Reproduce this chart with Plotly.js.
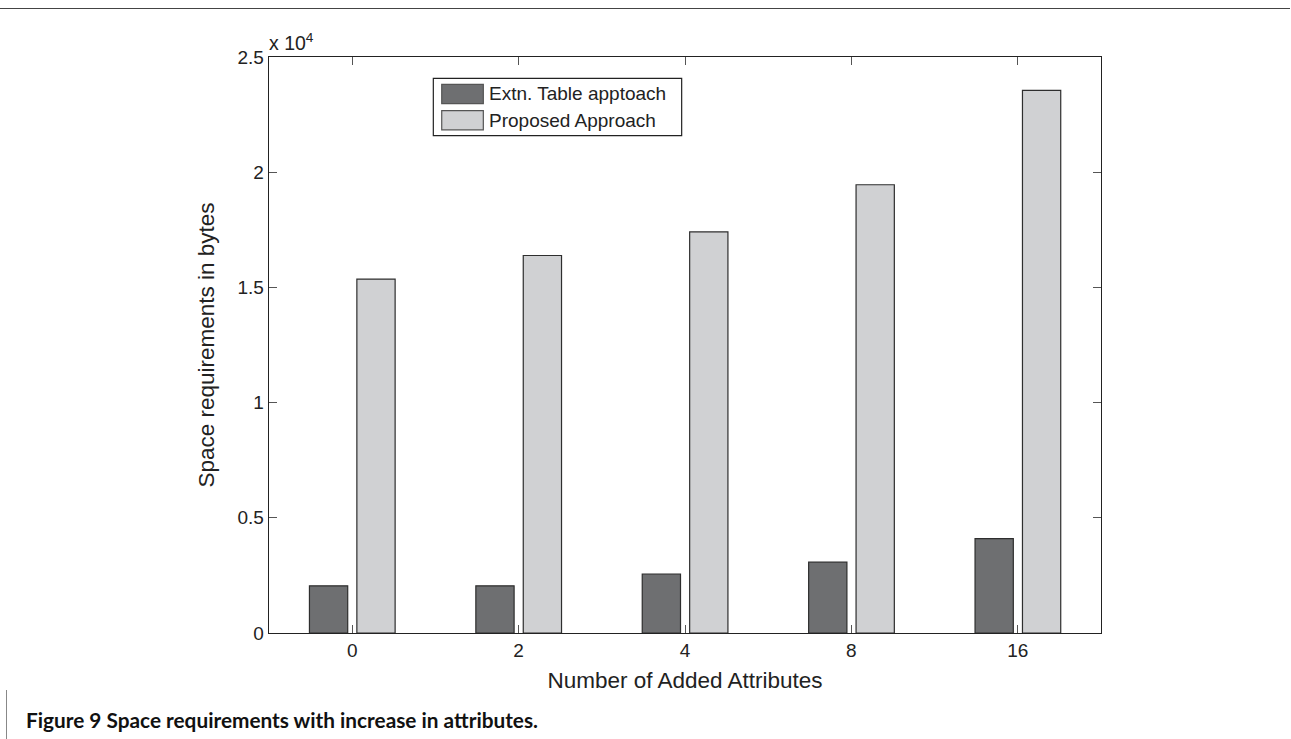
<!DOCTYPE html>
<html>
<head>
<meta charset="utf-8">
<script src="https://cdn.plot.ly/plotly-3.0.1.min.js"></script>
<style>
  html, body { margin: 0; padding: 0; background: #fff; }
  #wrap { position: relative; width: 1291px; height: 739px; overflow: hidden; }
  #chart { position: absolute; left: 0; top: 0; width: 1291px; height: 739px; }
  .rule-top { position: absolute; left: 0; top: 8px; width: 1290px; height: 0; border-top: 1.5px solid #444; }
  .rule-left { position: absolute; left: 6px; top: 690px; width: 0; height: 49px; border-left: 1.5px solid #888; }
</style>
</head>
<body>
<div id="wrap">
  <div id="chart"></div>
  <div class="rule-top"></div>
  <div class="rule-left"></div>
</div>
<script>
// Number of added attributes (x categories)
const categories = ['0', '2', '4', '8', '16'];

// Space requirements in bytes
const extnTable = [2048, 2048, 2560, 3072, 4096];
const proposed  = [15360, 16384, 17408, 19456, 23552];

const seriesNames = ['Extn. Table apptoach', 'Proposed Approach'];

// y ticks shown in units of 10^4
const yTickVals = [0, 5000, 10000, 15000, 20000, 25000];
const yTickText = ['0', '0.5', '1', '1.5', '2', '2.5'];

const captionLabel = 'Figure 9';
const captionText = 'Space requirements with increase in attributes.';

const FONT = 'Liberation Sans, Arial, Helvetica, sans-serif';
const DARK = '#6e6f71';
const LIGHT = '#d0d1d3';
const EDGE = '#2e2e2e';

const traces = [
  {
    type: 'bar', x: categories, y: extnTable, name: seriesNames[0],
    width: 0.23, offset: -0.257,
    marker: { color: DARK, line: { color: EDGE, width: 1.2 } },
    hoverinfo: 'x+y+name'
  },
  {
    type: 'bar', x: categories, y: proposed, name: seriesNames[1],
    width: 0.23, offset: 0.028,
    marker: { color: LIGHT, line: { color: EDGE, width: 1.2 } },
    hoverinfo: 'x+y+name'
  }
];

// legend box drawn in paper coordinates
const L = { x0: 0.1975, x1: 0.496, y0: 0.8634, y1: 0.963 };
const sw = [
  { y0: 0.919, y1: 0.9526, color: DARK },
  { y0: 0.8735, y1: 0.907, color: LIGHT }
];
const shapes = [
  { type: 'rect', xref: 'paper', yref: 'paper', x0: L.x0, x1: L.x1, y0: L.y0, y1: L.y1,
    line: { color: '#222', width: 1.2 }, fillcolor: '#fff', layer: 'above' }
];
sw.forEach(s => shapes.push({
  type: 'rect', xref: 'paper', yref: 'paper', x0: 0.2076, x1: 0.2576, y0: s.y0, y1: s.y1,
  line: { color: '#555', width: 1.2 }, fillcolor: s.color, layer: 'above'
}));

const annotations = [
  { xref: 'paper', yref: 'paper', x: 0.2625, y: (sw[0].y0 + sw[0].y1) / 2, xanchor: 'left', yanchor: 'middle',
    text: seriesNames[0], showarrow: false, font: { family: FONT, size: 19, color: '#222' } },
  { xref: 'paper', yref: 'paper', x: 0.2625, y: (sw[1].y0 + sw[1].y1) / 2, xanchor: 'left', yanchor: 'middle',
    text: seriesNames[1], showarrow: false, font: { family: FONT, size: 19, color: '#222' } },
  { xref: 'paper', yref: 'paper', x: -0.002, y: 1.0, xanchor: 'left', yanchor: 'bottom', yshift: 1,
    text: 'x 10<sup>4</sup>', showarrow: false, font: { family: FONT, size: 19.5, color: '#222' } },
  { xref: 'paper', yref: 'paper', x: -0.2945, y: -0.1504, xanchor: 'left', yanchor: 'middle',
    text: '<b>' + captionLabel + ' ' + captionText + '</b>', showarrow: false,
    font: { family: 'Lato, Liberation Sans, sans-serif', size: 20.8, color: '#111' } }
];

const layout = {
  width: 1291, height: 739,
  margin: { l: 269, r: 190, t: 57, b: 106 },
  paper_bgcolor: '#fff', plot_bgcolor: '#fff',
  showlegend: false,
  barmode: 'group',
  xaxis: {
    type: 'category', range: [-0.5, 4.5],
    showline: true, linecolor: '#222', linewidth: 1.3, mirror: 'ticks',
    ticks: 'inside', ticklen: 8, tickcolor: '#555', tickwidth: 1,
    showgrid: false, zeroline: false,
    tickfont: { family: FONT, size: 19, color: '#222' },
    title: { text: 'Number of Added Attributes', font: { family: FONT, size: 22.5, color: '#222' }, standoff: 12 },
    automargin: false
  },
  yaxis: {
    range: [0, 25000],
    tickvals: yTickVals, ticktext: yTickText,
    showline: true, linecolor: '#222', linewidth: 1.3, mirror: 'ticks',
    ticks: 'inside', ticklen: 8, tickcolor: '#555', tickwidth: 1,
    showgrid: false, zeroline: false,
    tickfont: { family: FONT, size: 19, color: '#222' },
    title: { text: 'Space requirements in bytes', font: { family: FONT, size: 22.5, color: '#222' }, standoff: 16 },
    automargin: false
  },
  shapes: shapes,
  annotations: annotations
};

Plotly.newPlot('chart', traces, layout, { displayModeBar: false, staticPlot: true });
</script>
</body>
</html>
